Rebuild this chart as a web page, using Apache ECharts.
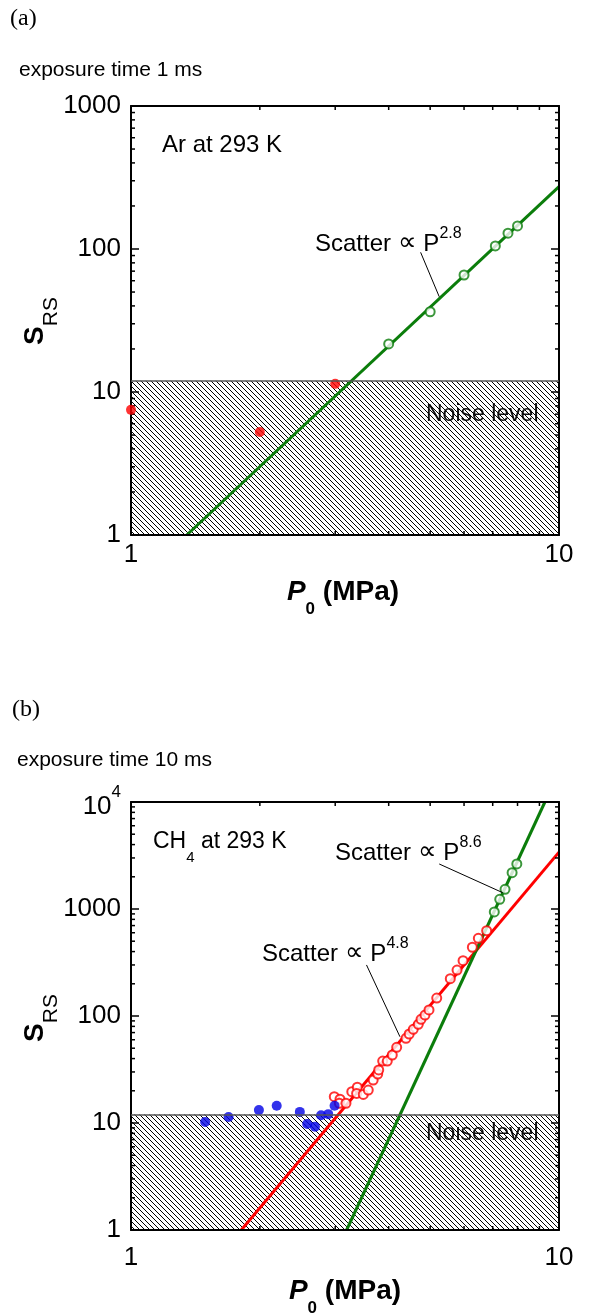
<!DOCTYPE html>
<html>
<head>
<meta charset="utf-8">
<script src="https://cdn.jsdelivr.net/npm/echarts@6/dist/echarts.min.js"></script>
<style>
  html, body { margin: 0; padding: 0; background: #fff; }
  #main { width: 590px; height: 1315px; }
</style>
</head>
<body>
<div id="main"></div>
<script>
// ---- panel (a): Ar, exposure 1 ms ----
const arGreenP = [4.0, 5.0, 6.0, 7.1, 7.6, 8.0];
const arGreenS = [21.7, 36.4, 65.8, 105, 129, 145];
const arRedP = [1.0, 2.0, 3.0];
const arRedS = [7.5, 5.25, 11.4];
const arFitP = [1.35, 10];
const arFitS = [1, 273];
const arLeader = [[4.75, 94.8], [5.25, 46.4]];

// ---- panel (b): CH4, exposure 10 ms ----
const chBlueP = [1.49, 1.69, 1.99, 2.19, 2.48, 2.58, 2.69, 2.78, 2.89, 2.99];
const chBlueS = [10.2, 11.4, 13.2, 14.5, 12.7, 9.8, 9.24, 11.8, 12.1, 14.5];
const chRedP = [2.985, 3.078, 3.067, 3.179, 3.28, 3.379, 3.366, 3.489, 3.584, 3.68,
  3.771, 3.791, 3.873, 3.97, 4.078, 4.176, 4.39, 4.467, 4.566, 4.691,
  4.76, 4.863, 4.969, 5.18, 5.572, 5.778, 5.968, 6.274, 6.479, 6.776];
const chRedS = [17.6, 16.7, 15.3, 15.3, 19.6, 21.6, 18.9, 18.5, 20.3, 25.2,
  28.7, 31.3, 37.9, 37.9, 43.2, 51.0, 61.9, 67.9, 75.1, 83.6,
  93.1, 102, 114, 147, 223, 269, 329, 439, 532, 627];
const chGreenP = [7.06, 7.27, 7.48, 7.77, 7.97];
const chGreenS = [938, 1233, 1528, 2184, 2635];
const chFitRedP = [1.81, 10];
const chFitRedS = [1, 3400];
const chFitGreenP = [3.19, 9.27];
const chFitGreenS = [1, 10000];
const chLeader86 = [[5.25, 2634], [7.39, 1420]];
const chLeader48 = [[3.55, 300], [4.25, 64]];

const noiseLevel = 12;
const xTicks = [1, 10];
const yMaxA = 1000, yMaxB = 10000;
const minorSteps = [2, 3, 4, 5, 6, 7, 8, 9];
const decadesA = [1, 10, 100];
const decadesB = [1, 10, 100, 1000];

const SANS = 'Liberation Sans, Arial, sans-serif';
const GREEN = '#0b7d0b';
const RED = '#ff0000';
const BLUE = '#0000e6';

const zip = (a, b) => a.map((v, i) => [v, b[i]]);

function makeHatch() {
  const c = document.createElement('canvas');
  c.width = 5; c.height = 5;
  const ctx = c.getContext('2d');
  ctx.strokeStyle = '#000';
  ctx.lineWidth = 1;
  ctx.beginPath();
  [-5, 0, 5].forEach(k => { ctx.moveTo(k, 0); ctx.lineTo(k + 5, 5); });
  ctx.stroke();
  return c;
}
const hatch = makeHatch();

function axisBase(extra) {
  return Object.assign({
    type: 'log', logBase: 10, z: 3,
    axisLine: { show: true, onZero: false, lineStyle: { color: '#000', width: 2 } },
    axisTick: { show: true, inside: true, length: 8, lineStyle: { color: '#000', width: 1.5 } },
    splitLine: { show: false },
    minorTick: { show: false },
    axisLabel: { show: false }
  }, extra);
}

function xLabel(margin) {
  return { show: true, color: '#000', fontSize: 26, fontFamily: SANS, margin: margin,
    formatter: v => String(Math.round(v)) };
}
function yLabel() {
  return { show: true, color: '#000', fontSize: 26, fontFamily: SANS, margin: 10,
    formatter: v => { const r = Math.round(v); return r === 10000 ? '{n|10}{sup|4}' : String(r); },
    rich: {
      n: { fontSize: 26, lineHeight: 36, verticalAlign: 'bottom', fontFamily: SANS, color: '#000' },
      sup: { fontSize: 17, lineHeight: 17, verticalAlign: 'top', fontFamily: SANS, color: '#000' }
    } };
}

function minorTicks(xi, yi, yMax, decades) {
  const data = [];
  minorSteps.forEach(m => data.push([m, 1, 0]));
  decades.forEach(d => minorSteps.forEach(m => data.push([1, d * m, 1])));
  return {
    type: 'custom', xAxisIndex: xi, yAxisIndex: yi, z: 3, silent: true, data: data,
    renderItem: function (params, api) {
      const len = 4;
      let s;
      if (api.value(2) === 0) {
        const v = api.value(0);
        const a = api.coord([v, 1]), b = api.coord([v, yMax]);
        s = [[a[0], a[1], a[0], a[1] - len], [b[0], b[1], b[0], b[1] + len]];
      } else {
        const v = api.value(1);
        const a = api.coord([1, v]), b = api.coord([10, v]);
        s = [[a[0], a[1], a[0] + len, a[1]], [b[0], b[1], b[0] - len, b[1]]];
      }
      return { type: 'group', children: s.map(q => ({
        type: 'line', shape: { x1: q[0], y1: q[1], x2: q[2], y2: q[3] },
        style: { stroke: '#000', lineWidth: 1.5 } })) };
    }
  };
}

function noiseSeries(xi, yi) {
  return {
    type: 'scatter', xAxisIndex: xi, yAxisIndex: yi, z: 1, data: [], silent: true,
    markArea: { silent: true,
      itemStyle: { color: { image: hatch, repeat: 'repeat' }, borderWidth: 0 },
      data: [[{ coord: [xTicks[0], 1] }, { coord: [xTicks[1], noiseLevel] }]] },
    markLine: { silent: true, symbol: 'none', label: { show: false },
      lineStyle: { color: '#555', width: 1.5, type: 'solid' },
      data: [{ yAxis: noiseLevel }] }
  };
}

function leaderLine(pts) {
  return [{ coord: pts[0] }, { coord: pts[1] }];
}

function fitLine(xi, yi, P, S, color, leaders) {
  return {
    type: 'line', xAxisIndex: xi, yAxisIndex: yi, z: 2, silent: true,
    data: zip(P, S), symbol: 'none', lineStyle: { color: color, width: 3 },
    markLine: leaders ? { silent: true, symbol: 'none', label: { show: false },
      lineStyle: { color: '#000', width: 1, type: 'solid' },
      data: leaders.map(leaderLine) } : undefined
  };
}

function openDots(xi, yi, P, S, color) {
  return { type: 'scatter', xAxisIndex: xi, yAxisIndex: yi, z: 4, silent: true,
    data: zip(P, S), symbol: 'circle', symbolSize: 9,
    itemStyle: { color: '#fff', borderColor: color, borderWidth: 2 } };
}
function filledDots(xi, yi, P, S, color) {
  return { type: 'scatter', xAxisIndex: xi, yAxisIndex: yi, z: 4, silent: true,
    data: zip(P, S), symbol: 'circle', symbolSize: 10,
    itemStyle: { color: color, borderWidth: 0 } };
}

function txt(x, y, text, opt) {
  opt = opt || {};
  return { type: 'text', x: x, y: y, rotation: opt.rotation || 0, silent: true,
    style: Object.assign({ text: text, x: 0, y: 0, fill: '#000',
      fontFamily: SANS, fontSize: 21,
      align: opt.align || 'left', textAlign: opt.align || 'left',
      verticalAlign: 'middle', textVerticalAlign: 'middle' }, opt.style || {}) };
}

const supRich = {
  m: { fontSize: 24, lineHeight: 30, verticalAlign: 'bottom', fontFamily: SANS, fill: '#000' },
  p: { fontSize: 26, lineHeight: 30, verticalAlign: 'bottom', fontFamily: SANS, fill: '#000' },
  s: { fontSize: 16, lineHeight: 14, verticalAlign: 'top', fontFamily: SANS, fill: '#000' }
};
const yTitleRich = {
  b: { fontSize: 28, fontWeight: 'bold', lineHeight: 54, fontFamily: SANS, fill: '#000' },
  s: { fontSize: 21, lineHeight: 21, verticalAlign: 'bottom', fontFamily: SANS, fill: '#000' }
};
const xTitleRich = {
  p: { fontSize: 28, fontWeight: 'bold', fontStyle: 'italic', lineHeight: 52, fontFamily: SANS, fill: '#000' },
  sub: { fontSize: 17, fontWeight: 'bold', lineHeight: 17, verticalAlign: 'bottom', fontFamily: SANS, fill: '#000' },
  r: { fontSize: 28, fontWeight: 'bold', lineHeight: 52, fontFamily: SANS, fill: '#000' }
};
const scatterText = sup => '{m|Scatter }{p|\u221D}{m| P}{s|' + sup + '}';

const chart = echarts.init(document.getElementById('main'), null, { renderer: 'canvas' });

const option = {
  animation: false,
  backgroundColor: '#fff',
  grid: [
    { left: 131, top: 106, width: 428, height: 429, show: false },
    { left: 131, top: 802, width: 428, height: 428, show: false }
  ],
  xAxis: [
    axisBase({ gridIndex: 0, min: 1, max: 10, position: 'bottom', axisLabel: xLabel(7) }),
    axisBase({ gridIndex: 0, min: 1, max: 10, position: 'top' }),
    axisBase({ gridIndex: 1, min: 1, max: 10, position: 'bottom', axisLabel: xLabel(15) }),
    axisBase({ gridIndex: 1, min: 1, max: 10, position: 'top' })
  ],
  yAxis: [
    axisBase({ gridIndex: 0, min: 1, max: yMaxA, position: 'left', axisLabel: yLabel() }),
    axisBase({ gridIndex: 0, min: 1, max: yMaxA, position: 'right' }),
    axisBase({ gridIndex: 1, min: 1, max: yMaxB, position: 'left', axisLabel: yLabel() }),
    axisBase({ gridIndex: 1, min: 1, max: yMaxB, position: 'right' })
  ],
  series: [
    // panel (a)
    noiseSeries(0, 0),
    fitLine(0, 0, arFitP, arFitS, GREEN, [arLeader]),
    openDots(0, 0, arGreenP, arGreenS, GREEN),
    filledDots(0, 0, arRedP, arRedS, RED),
    minorTicks(0, 0, yMaxA, decadesA),
    // panel (b)
    noiseSeries(2, 2),
    fitLine(2, 2, chFitRedP, chFitRedS, RED, [chLeader48]),
    fitLine(2, 2, chFitGreenP, chFitGreenS, GREEN, [chLeader86]),
    openDots(2, 2, chRedP, chRedS, RED),
    openDots(2, 2, chGreenP, chGreenS, GREEN),
    filledDots(2, 2, chBlueP, chBlueS, BLUE),
    minorTicks(2, 2, yMaxB, decadesB)
  ],
  graphic: [
    // panel (a)
    txt(10, 19, '(a)', { style: { fontFamily: 'Liberation Serif, Times New Roman, serif', fontSize: 24 } }),
    txt(19, 70, 'exposure time 1 ms', { style: { fontSize: 21 } }),
    txt(162, 145, 'Ar at 293 K', { style: { fontSize: 24 } }),
    txt(315, 241, scatterText('2.8'), { style: { rich: supRich } }),
    txt(426, 415, 'Noise level', { style: { fontSize: 23, fill: '#111' } }),
    txt(35, 321, '{b|S}{s|RS}', { rotation: Math.PI / 2, align: 'center', style: { rich: yTitleRich } }),
    txt(343, 592, '{p|P}{sub|0}{r| (MPa)}', { align: 'center', style: { rich: xTitleRich } }),
    // panel (b)
    txt(12, 710, '(b)', { style: { fontFamily: 'Liberation Serif, Times New Roman, serif', fontSize: 24 } }),
    txt(17, 760, 'exposure time 10 ms', { style: { fontSize: 21 } }),
    txt(153, 842, '{m|CH}{s|4}{m| at 293 K}', { style: { rich: {
      m: { fontSize: 23, lineHeight: 46, fontFamily: SANS, fill: '#000' },
      s: { fontSize: 15, lineHeight: 14, verticalAlign: 'bottom', fontFamily: SANS, fill: '#000' } } } }),
    txt(335, 850, scatterText('8.6'), { style: { rich: supRich } }),
    txt(262, 951, scatterText('4.8'), { style: { rich: supRich } }),
    txt(426, 1134, 'Noise level', { style: { fontSize: 23, fill: '#111' } }),
    txt(35, 1018, '{b|S}{s|RS}', { rotation: Math.PI / 2, align: 'center', style: { rich: yTitleRich } }),
    txt(345, 1291, '{p|P}{sub|0}{r| (MPa)}', { align: 'center', style: { rich: xTitleRich } })
  ]
};

chart.setOption(option);
</script>
</body>
</html>
